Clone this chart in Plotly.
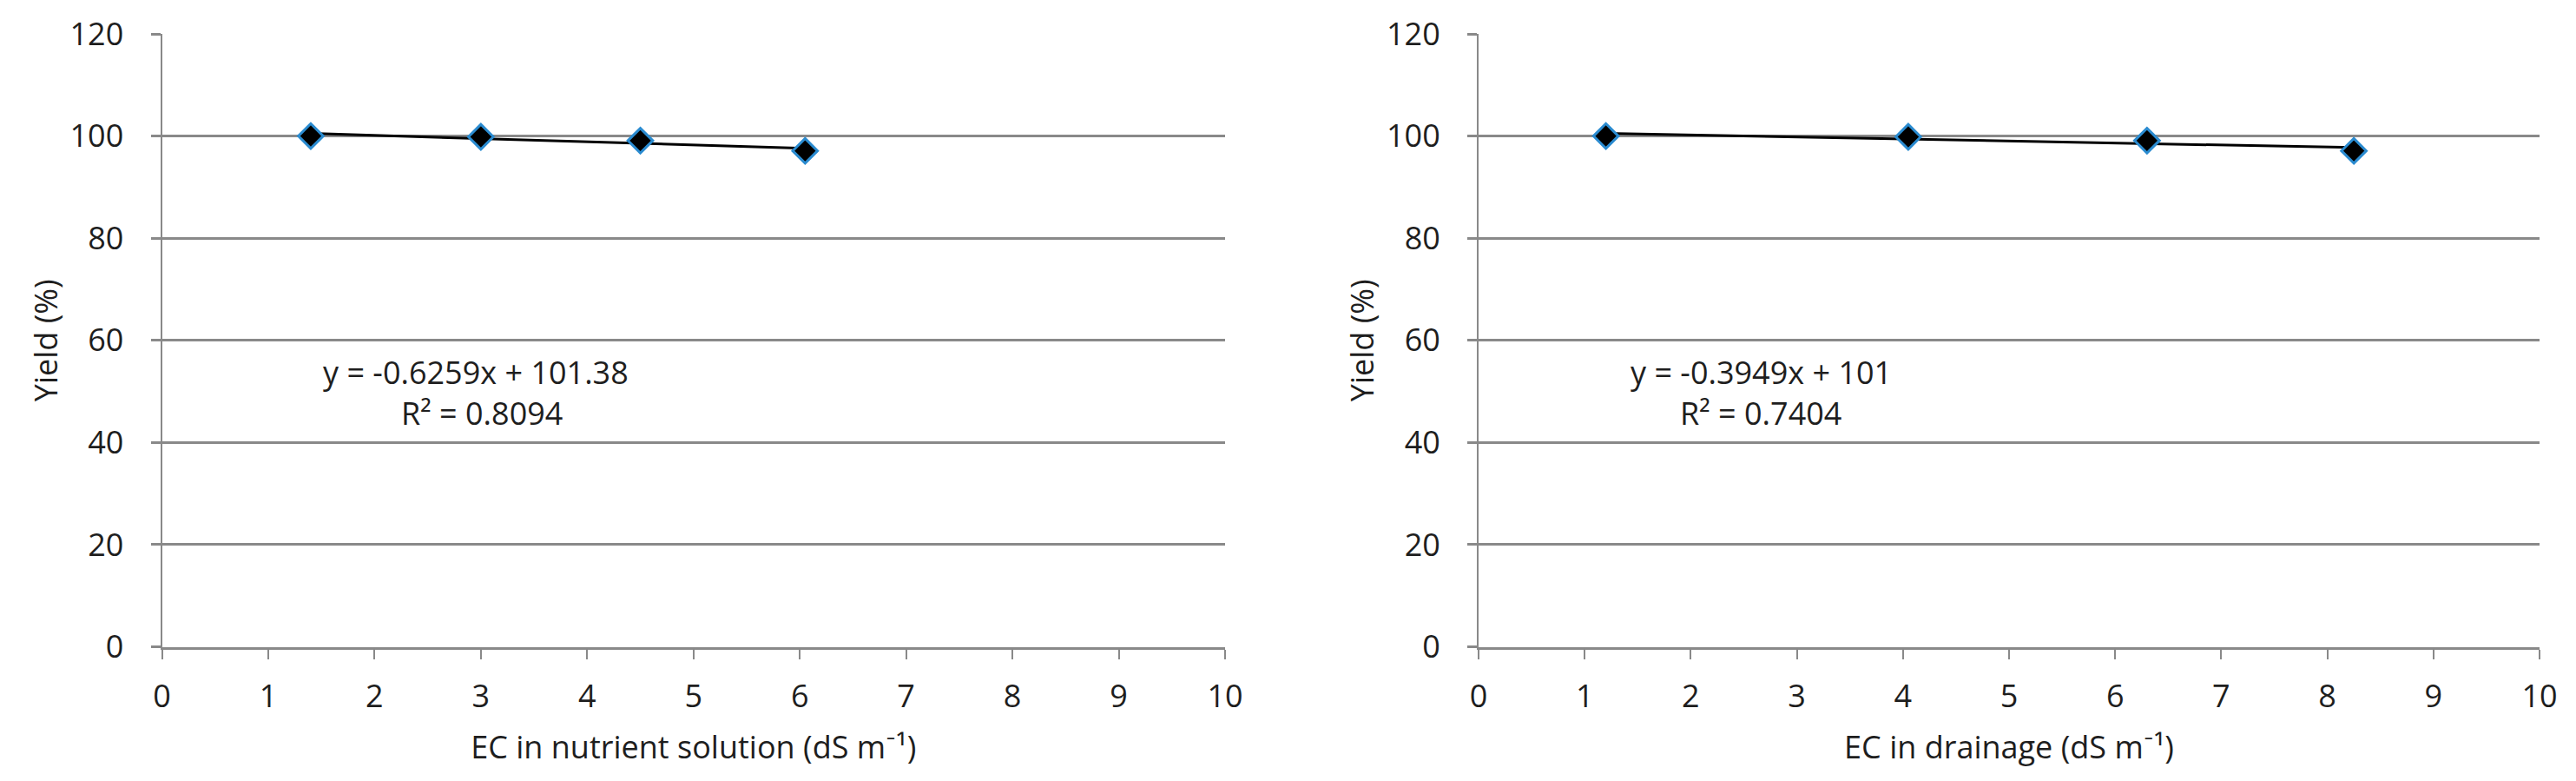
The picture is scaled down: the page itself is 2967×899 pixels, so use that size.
import plotly.graph_objects as go
import numpy as np

# ---- data ----
ec_solution = [1.4, 3.0, 4.5, 6.05]
yield_solution = [100.0, 99.85, 99.1, 97.1]
ec_drainage = [1.2, 4.05, 6.3, 8.25]
yield_drainage = [100.0, 99.85, 99.1, 97.1]

fit_slope = [-0.6259, -0.3949]
fit_intercept = [101.38, 101.0]
fit_r2 = ["0.8094", "0.7404"]
fit_labels = ["y = -0.6259x + 101.38", "y = -0.3949x + 101"]

x_titles = ["EC in nutrient solution (dS m\u207b\u00b9)", "EC in drainage (dS m\u207b\u00b9)"]
y_title = "Yield (%)"
x_ticks = list(range(0, 11))
y_ticks = [0, 20, 40, 60, 80, 100, 120]

FONT = "'Open Sans', Lato, sans-serif"
TXT = "#1e1e1e"
GRID = "#898989"
MARK_LINE = "#2a8bd0"

fig = go.Figure()

# annotation anchor positions (data units) for the fit labels
eq_pos = [(2.955, 53.75), (2.66, 53.75)]
r2_pos = [(3.01, 45.7), (2.66, 45.7)]

panels = [(ec_solution, yield_solution), (ec_drainage, yield_drainage)]
for i, (xs, ys) in enumerate(panels):
    xa = "x" if i == 0 else "x2"
    ya = "y" if i == 0 else "y2"
    # linear trendline over the data range
    tx = np.array([min(xs), max(xs)])
    ty = fit_slope[i] * tx + fit_intercept[i]
    fig.add_trace(go.Scatter(x=tx, y=ty, mode="lines", xaxis=xa, yaxis=ya,
                             line=dict(color="black", width=3), showlegend=False,
                             hoverinfo="skip"))
    fig.add_trace(go.Scatter(x=xs, y=ys, mode="markers", xaxis=xa, yaxis=ya,
                             marker=dict(symbol="diamond", size=22, color="black",
                                         line=dict(color=MARK_LINE, width=3)),
                             showlegend=False))
    fig.add_annotation(x=eq_pos[i][0], y=eq_pos[i][1], xref=xa, yref=ya,
                       text=fit_labels[i], showarrow=False,
                       font=dict(family=FONT, size=36, color=TXT))
    fig.add_annotation(x=r2_pos[i][0], y=r2_pos[i][1], xref=xa, yref=ya,
                       text="R\u00b2 = " + fit_r2[i], showarrow=False,
                       font=dict(family=FONT, size=36, color=TXT))

xdoms = [[186.5 / 2967, 1411 / 2967], [1703 / 2967, 2925 / 2967]]
ydom = [(899 - 744.5) / 899, (899 - 39) / 899]

for i in range(2):
    xkey = "xaxis" if i == 0 else "xaxis2"
    ykey = "yaxis" if i == 0 else "yaxis2"
    fig.update_layout(**{
        xkey: dict(domain=xdoms[i], range=[0, 10], tickvals=x_ticks,
                   showgrid=False, zeroline=False, automargin=False,
                   showline=True, linecolor=GRID, linewidth=3,
                   ticks="outside", ticklen=11, tickwidth=2, tickcolor=GRID,
                   ticklabelstandoff=12,
                   tickfont=dict(family=FONT, size=36, color=TXT),
                   title=dict(text=x_titles[i], standoff=25,
                              font=dict(family=FONT, size=36, color=TXT)),
                   anchor="y" if i == 0 else "y2", fixedrange=True),
        ykey: dict(domain=ydom, range=[0, 120], tickvals=y_ticks,
                   showgrid=True, gridcolor=GRID, gridwidth=3, zeroline=False,
                   automargin=False,
                   showline=True, linecolor=GRID, linewidth=2,
                   ticks="outside", ticklen=11, tickwidth=3, tickcolor=GRID,
                   ticklabelstandoff=24,
                   tickfont=dict(family=FONT, size=36, color=TXT),
                   title=dict(text=y_title, standoff=3,
                              font=dict(family=FONT, size=36, color=TXT)),
                   anchor="x" if i == 0 else "x2", fixedrange=True),
    })

fig.update_layout(template="none", width=2967, height=899,
                  margin=dict(l=0, r=0, t=0, b=0, autoexpand=False),
                  paper_bgcolor="white", plot_bgcolor="white", showlegend=False)

fig.write_html("out.html", config={"displayModeBar": False},
               post_script="document.body.style.margin='0px';document.body.style.overflow='hidden';")
